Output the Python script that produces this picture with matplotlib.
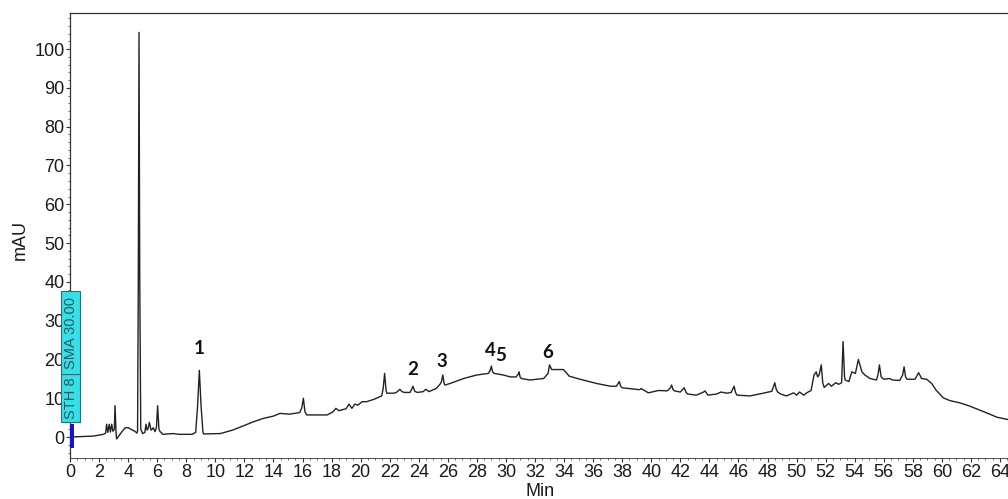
import matplotlib.pyplot as plt
import numpy as np
from matplotlib.patches import Rectangle
from matplotlib.ticker import MultipleLocator

# chromatogram trace, retention time (min) vs absorbance (mAU)
time_min = [
    0.0, 1.6, 2.3, 2.45, 2.52, 2.6, 2.7, 2.78, 2.87, 2.95, 3.05, 3.1, 3.17, 3.21,
    3.4, 3.6, 3.8, 4.0, 4.3, 4.5, 4.6, 4.65, 4.7, 4.75, 4.8, 4.87, 5.0, 5.15,
    5.23, 5.3, 5.38, 5.46, 5.58, 5.65, 5.73, 5.85, 5.95, 6.03, 6.12, 6.2, 6.4,
    7.1, 7.5, 8.4, 8.65, 8.78, 8.9, 9.02, 9.15, 9.2, 10.35, 11.2, 12.2, 12.6,
    13.3, 14.0, 14.45, 15.1, 15.8, 15.95, 16.06, 16.17, 16.3, 17.7, 18.1, 18.3,
    18.5, 18.8, 19.0, 19.2, 19.4, 19.6, 19.8, 20.1, 20.4, 20.9, 21.45, 21.55,
    21.65, 21.75, 21.8, 22.3, 22.5, 22.7, 22.85, 23.0, 23.4, 23.5, 23.6, 23.72,
    23.9, 24.3, 24.5, 24.7, 25.0, 25.2, 25.5, 25.58, 25.65, 25.75, 25.8, 26.15,
    27.1, 28.0, 28.8, 28.92, 29.0, 29.08, 29.2, 29.8, 30.3, 30.7, 30.85, 30.9,
    30.98, 31.05, 31.65, 32.6, 32.9, 33.0, 33.15, 33.95, 34.2, 34.35, 35.1,
    36.25, 37.2, 37.6, 37.72, 37.8, 37.9, 38.0, 38.5, 39.2, 39.3, 39.8, 40.5,
    41.1, 41.3, 41.4, 41.5, 41.6, 42.0, 42.26, 42.4, 42.5, 43.1, 43.6, 43.7,
    43.9, 44.5, 44.8, 45.2, 45.5, 45.7, 45.8, 45.9, 46.8, 47.7, 48.3, 48.5,
    48.6, 48.7, 48.9, 49.3, 49.8, 50.0, 50.2, 50.5, 50.7, 51.0, 51.2, 51.35,
    51.45, 51.55, 51.7, 51.8, 51.9, 52.2, 52.4, 52.7, 52.9, 53.1, 53.2, 53.3,
    53.35, 53.6, 53.8, 54.05, 54.25, 54.5, 54.7, 55.05, 55.5, 55.6, 55.7, 55.82,
    56.0, 56.4, 56.6, 57.1, 57.3, 57.4, 57.5, 57.6, 58.15, 58.4, 58.6, 58.95,
    59.3, 59.6, 60.1, 60.55, 61.25, 61.9, 62.9, 63.8, 64.55, 65.0,
]
absorbance = [
    0.0, 0.25, 0.7, 1.0, 3.3, 1.2, 3.3, 1.3, 3.3, 1.5, 2.0, 8.1, 1.0, -0.5,
    0.5, 1.5, 2.4, 2.4, 1.8, 1.4, 1.0, 1.5, 40.0, 104.3, 40.0, 2.0, 0.9, 1.2,
    3.3, 1.8, 2.2, 3.8, 1.8, 2.0, 2.4, 1.4, 2.5, 8.1, 2.0, 1.4, 0.7,
    0.9, 0.7, 0.7, 1.2, 8.0, 17.2, 8.0, 1.2, 0.8, 0.9, 1.8, 3.3, 3.9,
    4.8, 5.4, 6.1, 5.9, 6.3, 7.5, 10.0, 6.5, 5.7, 5.7, 6.5, 7.4,
    6.8, 7.1, 7.3, 8.5, 7.4, 8.5, 8.2, 9.1, 9.1, 9.7, 10.6, 12.5,
    16.4, 12.0, 11.3, 11.3, 11.6, 12.3, 11.7, 11.5, 11.5, 12.2, 13.1, 11.8,
    11.5, 11.7, 12.3, 11.7, 12.2, 12.5, 13.8, 14.5, 16.0, 13.8, 13.4, 13.8,
    15.1, 16.0, 16.4, 17.2, 18.3, 16.8, 16.4, 16.0, 15.5, 15.5, 16.2, 16.8,
    15.4, 15.1, 14.7, 15.1, 16.4, 18.6, 17.4, 17.4, 16.4, 15.7, 14.9,
    13.8, 13.1, 13.1, 13.8, 14.3, 13.1, 12.7, 12.5, 12.2, 12.5, 11.4, 12.0,
    11.9, 12.6, 13.4, 12.2, 11.9, 11.6, 12.7, 11.5, 11.1, 10.8, 11.6, 11.9,
    10.8, 11.1, 11.6, 11.3, 11.5, 13.1, 11.5, 10.8, 10.6, 11.3, 11.8, 14.0,
    12.3, 11.6, 11.1, 10.6, 11.4, 10.8, 11.6, 10.8, 11.4, 12.0, 16.0, 16.8,
    15.5, 16.0, 18.6, 14.0, 12.8, 13.8, 13.1, 14.0, 13.6, 14.0, 24.6, 15.5,
    14.7, 14.3, 16.8, 16.4, 20.0, 16.8, 16.0, 15.1, 14.7, 16.0, 18.6, 15.5,
    14.9, 15.1, 14.7, 14.6, 16.0, 18.1, 15.5, 14.9, 14.9, 16.6, 15.1, 14.9,
    13.8, 12.1, 10.1, 9.4, 8.8, 8.0, 6.5, 5.1, 4.5, 4.2,
]

# numbered peaks and where their labels sit
peak_names = ["1", "2", "3", "4", "5", "6"]
peak_label_t = [8.88, 23.6, 25.6, 28.9, 29.66, 32.9]
peak_label_y = [22.7, 17.3, 19.6, 22.2, 21.1, 21.9]

W, H = 1008, 499
fig = plt.figure(figsize=(W / 100, H / 100), dpi=100)
ax = fig.add_axes([70 / W, 41 / H, (W - 70) / W, 445 / H])

ax.plot(time_min, absorbance, color="#222222", lw=1.0)

ax.set_xlim(0, 64.55)
ax.set_ylim(-5.4, 109.3)
ax.xaxis.set_major_locator(MultipleLocator(2))
ax.xaxis.set_minor_locator(MultipleLocator(0.5))
ax.yaxis.set_major_locator(MultipleLocator(10))
ax.yaxis.set_minor_locator(MultipleLocator(2))
ax.set_yticks(np.arange(0, 101, 10))

for s in ["left", "top", "bottom"]:
    ax.spines[s].set_color("#333333")
    ax.spines[s].set_linewidth(0.9)
ax.spines["right"].set_visible(False)
ax.spines["bottom"].set_linewidth(0.6)

tick_font = dict(family="Liberation Sans", size=13)
ax.tick_params(axis="both", which="major", length=3, width=0.8, color="#333333", pad=1)
ax.tick_params(axis="both", which="minor", length=1.5, width=0.6, color="#555555")
for lab in ax.get_xticklabels() + ax.get_yticklabels():
    lab.set_fontfamily("Liberation Sans")
    lab.set_fontsize(13)
    lab.set_color("#1a1a1a")

fig.text(20 / W, 1 - 240 / H, "mAU", rotation=90, ha="center", va="center",
         color="#1a1a1a", **tick_font)
fig.text(540 / W, 1 - 491 / H, "Min", ha="center", va="center",
         color="#1a1a1a", **tick_font)

for name, t, y in zip(peak_names, peak_label_t, peak_label_y):
    ax.text(t, y, name, ha="center", va="center", fontsize=13.5,
            fontweight="bold", family="Lato", color="#111111")

# integration event marker on the y axis
box = dict(fc="#38dfe6", ec="#2a6f74", lw=0.8, clip_on=False, zorder=4)
ax.add_patch(Rectangle((-0.62, 3.9), 1.31, 12.3, **box))
ax.add_patch(Rectangle((-0.62, 16.2), 1.31, 21.4, **box))
ax.text(0.05, 10.0, "STH 8", rotation=90, ha="center", va="center",
        fontsize=10.5, family="Liberation Sans", color="#1f5a60", zorder=5, clip_on=False)
ax.text(0.05, 26.9, "SMA 30.00", rotation=90, ha="center", va="center",
        fontsize=10.5, family="Liberation Sans", color="#1f5a60", zorder=5, clip_on=False)
ax.add_patch(Rectangle((0.0, -2.8), 0.28, 6.1, fc="#1414c8", ec="none",
                       clip_on=False, zorder=5))

fig.savefig("out.png", dpi=100)
